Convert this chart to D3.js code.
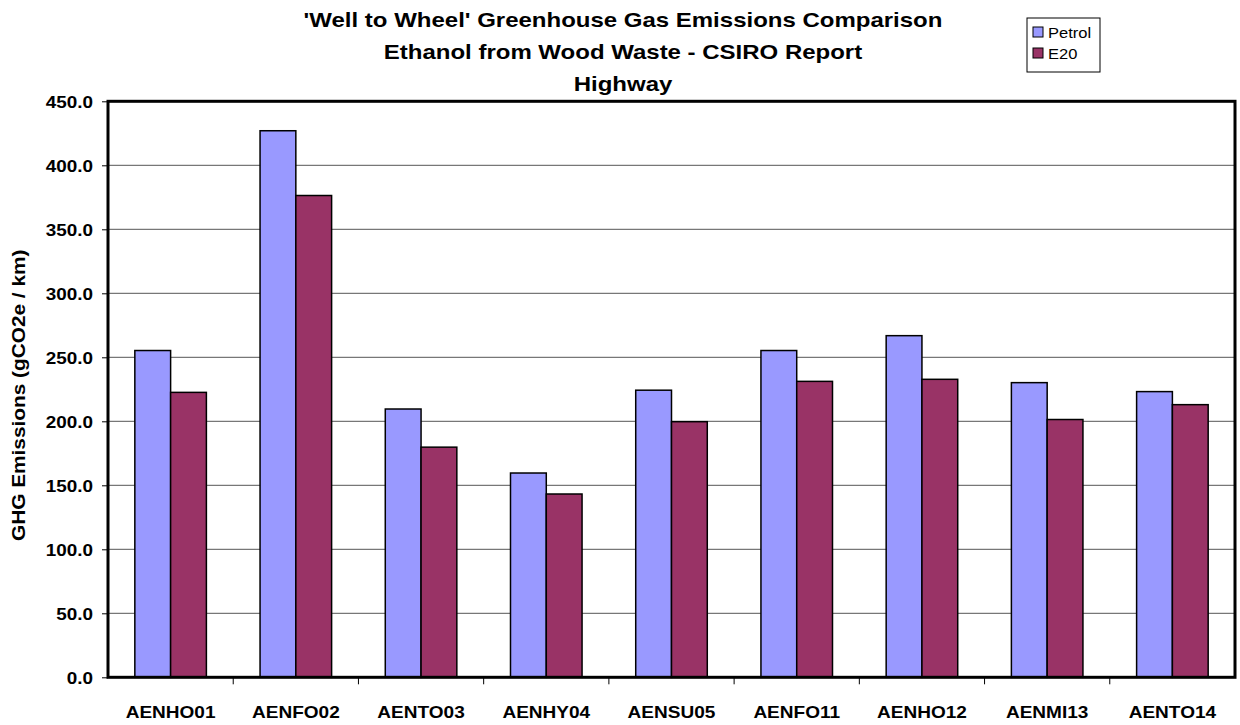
<!DOCTYPE html>
<html>
<head>
<meta charset="utf-8">
<script src="https://cdnjs.cloudflare.com/ajax/libs/d3/7.8.5/d3.min.js"></script>
<style>
  body { margin: 0; background: #fff; }
  text { font-family: "Liberation Sans", Arial, sans-serif; }
</style>
</head>
<body>
<script>
// chart data
var categories = ["AENHO01", "AENFO02", "AENTO03", "AENHY04", "AENSU05", "AENFO11", "AENHO12", "AENMI13", "AENTO14"];
var seriesNames = ["Petrol", "E20"];
var petrol = [255.3, 427.0, 209.6, 159.6, 224.3, 255.3, 266.9, 230.2, 223.2];
var e20 = [222.6, 376.4, 179.8, 143.2, 199.7, 231.2, 232.8, 201.4, 213.0];
var yTicks = [0, 50, 100, 150, 200, 250, 300, 350, 400, 450];
var titleLines = ["'Well to Wheel' Greenhouse Gas Emissions Comparison", "Ethanol from Wood Waste - CSIRO Report", "Highway"];

(function() {
var width = 1240, height = 725;
var colors = ["#9999FF", "#993366"];
// the reference fonts are a little wider than Arial
var stretch = 1.18;

// plot area
var pLeft = 108, pRight = 1235, pTop = 101.3, pBottom = 677.3;

var svg = d3.select("body").append("svg")
    .attr("width", width)
    .attr("height", height);

var x0 = d3.scaleBand().domain(categories).range([pLeft, pRight]).paddingInner(0).paddingOuter(0);
var x1 = d3.scaleBand().domain(seriesNames).range([0, x0.bandwidth()]).paddingInner(0).paddingOuter(0.75);
var y = d3.scaleLinear().domain([0, 450]).range([pBottom, pTop]);

// gridlines
svg.append("g")
    .selectAll("line")
    .data(yTicks.slice(1, -1))
    .enter().append("line")
    .attr("x1", pLeft).attr("x2", pRight)
    .attr("y1", function(d) { return y(d); })
    .attr("y2", function(d) { return y(d); })
    .attr("stroke", "#777")
    .attr("stroke-width", 1.2);

// bars
var table = categories.map(function(c, i) { return { cat: c, vals: [petrol[i], e20[i]] }; });
var groups = svg.append("g").selectAll("g")
    .data(table)
    .enter().append("g")
    .attr("transform", function(d) { return "translate(" + x0(d.cat) + ",0)"; });

groups.selectAll("rect")
    .data(function(d) { return d.vals.map(function(v, j) { return { name: seriesNames[j], v: v, j: j }; }); })
    .enter().append("rect")
    .attr("x", function(d) { return x1(d.name); })
    .attr("width", x1.bandwidth())
    .attr("y", function(d) { return y(d.v); })
    .attr("height", function(d) { return y(0) - y(d.v); })
    .attr("fill", function(d) { return colors[d.j]; })
    .attr("stroke", "#000")
    .attr("stroke-width", 1.5);

// y axis
var yAxis = d3.axisLeft(y)
    .tickValues(yTicks)
    .tickSize(6)
    .tickFormat(d3.format(".1f"));
var gy = svg.append("g")
    .attr("transform", "translate(" + pLeft + ",0)")
    .call(yAxis);
gy.select(".domain").remove();
gy.selectAll(".tick line").attr("stroke", "#000").attr("stroke-width", 1);
gy.selectAll(".tick text")
    .attr("x", -15 / stretch)
    .attr("dy", "0.36em")
    .attr("transform", "scale(" + stretch + ",1)")
    .style("font-size", "16px")
    .style("font-weight", "bold")
    .attr("fill", "#000");

// x axis
var xAxis = d3.axisBottom(x0).tickSize(0);
var gx = svg.append("g")
    .attr("transform", "translate(0," + pBottom + ")")
    .call(xAxis);
gx.select(".domain").remove();
gx.selectAll(".tick text")
    .attr("y", 41)
    .attr("dy", 0)
    .attr("transform", "scale(1.12,1)")
    .style("font-size", "17px")
    .style("font-weight", "bold")
    .attr("fill", "#000");

// category dividers on the x axis
svg.append("g")
    .selectAll("line")
    .data(categories.slice(1))
    .enter().append("line")
    .attr("x1", function(d) { return x0(d); })
    .attr("x2", function(d) { return x0(d); })
    .attr("y1", pBottom)
    .attr("y2", pBottom + 7)
    .attr("stroke", "#000")
    .attr("stroke-width", 1);

// plot frame
svg.append("rect")
    .attr("x", pLeft).attr("y", pTop)
    .attr("width", pRight - pLeft).attr("height", pBottom - pTop)
    .attr("fill", "none")
    .attr("stroke", "#000")
    .attr("stroke-width", 3);

// y axis title
svg.append("text")
    .attr("transform", "translate(24.5," + ((pTop + pBottom) / 2 + 6) + ") rotate(-90) scale(1.19,1)")
    .attr("text-anchor", "middle")
    .style("font-size", "17.5px")
    .style("font-weight", "bold")
    .text("GHG Emissions (gCO2e / km)");

// chart title
svg.append("g").selectAll("text")
    .data(titleLines)
    .enter().append("text")
    .attr("transform", function(d, i) { return "translate(623," + (27 + i * 32) + ") scale(1.2,1)"; })
    .attr("text-anchor", "middle")
    .style("font-size", "20px")
    .style("font-weight", "bold")
    .text(function(d) { return d; });

// legend
var legend = svg.append("g").attr("transform", "translate(1027,18)");
legend.append("rect")
    .attr("width", 73).attr("height", 54)
    .attr("fill", "#fff")
    .attr("stroke", "#000")
    .attr("stroke-width", 1);
var items = legend.selectAll(".item")
    .data(seriesNames)
    .enter().append("g")
    .attr("transform", function(d, i) { return "translate(6," + (9 + i * 21) + ")"; });
items.append("rect")
    .attr("width", 10).attr("height", 10)
    .attr("fill", function(d, i) { return colors[i]; })
    .attr("stroke", "#000")
    .attr("stroke-width", 1);
items.append("text")
    .attr("transform", "translate(15,11) scale(1.1,1)")
    .style("font-size", "15px")
    .text(function(d) { return d; });
})();
</script>
</body>
</html>
